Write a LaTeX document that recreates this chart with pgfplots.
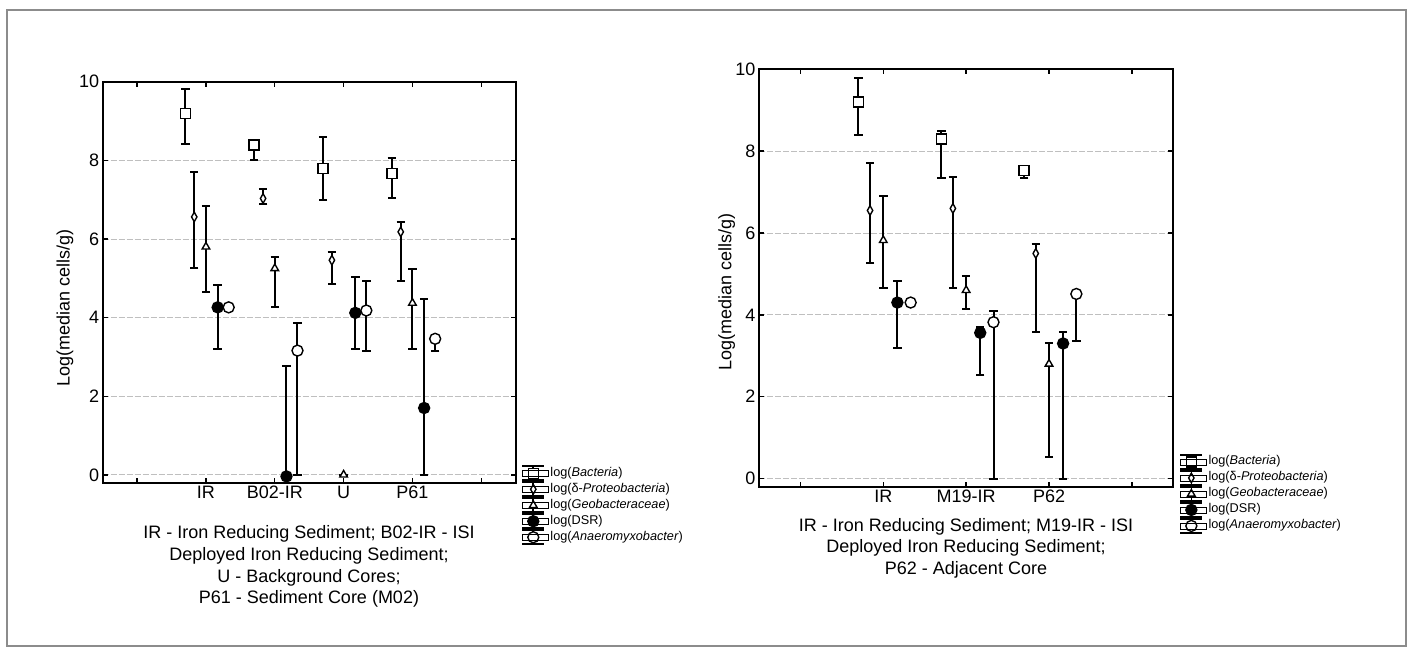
\documentclass[border=0pt]{standalone}
\usepackage{pgfplots}
\pgfplotsset{compat=1.18}
\usepackage{fontspec}
\setmainfont{Liberation Sans}
\newcommand\fa{\fontsize{18}{21.7}\selectfont}
\newcommand\fl{\fontsize{12.7}{15}\selectfont}
\definecolor{framegray}{RGB}{140,140,140}
\pgfplotsset{
  myaxis/.style={
    scale only axis,
    anchor=south west,
    ymin=-0.2, ymax=10,
    ytick={0,2,...,10},
    ymajorgrids,
    grid style={dash pattern=on 6pt off 2pt, gray!50, line width=0.8pt},
    axis line style={line width=1.8pt},
    tick align=inside,
    major tick length=5pt,
    every tick/.style={black, line width=1.4pt},
    tick label style={font=\fa},
    /pgf/number format/assume math mode=true,
    legend cell align=left,
    legend style={draw=none, fill=none, inner sep=0pt, row sep=0pt, anchor=north west,
      nodes={font=\fl, text height=9pt, text depth=3pt, inner sep=2pt}},
    legend image code/.code={
      \draw[overlay, line width=1.6pt, solid] (0pt,7pt)--(22pt,7pt) (0pt,-7pt)--(22pt,-7pt) (11pt,-7pt)--(11pt,7pt);
      \draw plot[only marks] coordinates {(11pt,0pt)};
      \path (0pt,-3pt) rectangle (26pt,3pt);
    },
  },
  eb/.style={error bars/.cd, y dir=both, y explicit,
    error bar style={line width=2pt, solid},
    error mark options={rotate=90, mark size=4.2pt, line width=2pt}},
  sbac/.style={black, only marks, mark=square*, mark size=5pt, mark options={fill=white, line width=1.4pt}, eb},
  sdel/.style={black, only marks, mark=diamond*, mark size=4.8pt, mark options={xscale=0.75, fill=white, line width=1.4pt}, eb},
  sgeo/.style={black, only marks, mark=triangle*, mark size=4.4pt, mark options={fill=white, line width=1.4pt}, eb},
  sdsr/.style={black, only marks, mark=*, mark size=5.5pt, mark options={fill=black, line width=1.4pt}, eb},
  sana/.style={black, only marks, mark=*, mark size=5.5pt, mark options={fill=white, line width=1.4pt}, eb},
}
\begin{document}
\begin{tikzpicture}[x=1pt,y=1pt]
\useasboundingbox (0,0) rectangle (1413,653);
\draw[line width=2.5pt, framegray] (7,643) rectangle (1406,7);

% ---------------- left panel ----------------
\begin{axis}[myaxis, at={(102.7pt,170.3pt)}, width=413pt, height=401pt,
  xmin=0.5, xmax=6.5, xtick={1,...,6}, xticklabels={,IR,B02-IR,U,P61,},
  legend style={at={(1.015,0.044)}}]
\addplot+[sbac] coordinates {
 (1.70,9.19) += (0,0.62) -= (0,0.77)
 (2.70,8.39) += (0,0.06) -= (0,0.37)
 (3.70,7.79) += (0,0.81) -= (0,0.80)
 (4.70,7.66) += (0,0.40) -= (0,0.63)
};
\addlegendentry{log(\textit{Bacteria})}
\addplot+[sdel] coordinates {
 (1.83,6.56) += (0,1.14) -= (0,1.29)
 (2.83,7.03) += (0,0.23) -= (0,0.13)
 (3.83,5.46) += (0,0.20) -= (0,0.60)
 (4.83,6.18) += (0,0.26) -= (0,1.26)
};
\addlegendentry{log(δ-\textit{Proteobacteria})}
\addplot+[sgeo] coordinates {
 (2.00,5.80) += (0,1.04) -= (0,1.16)
 (3.00,5.25) += (0,0.29) -= (0,0.97)
 (4.00,0.00) += (0,0.00) -= (0,0.00)
 (5.00,4.37) += (0,0.86) -= (0,1.17)
};
\addlegendentry{log(\textit{Geobacteraceae})}
\addplot+[sdsr] coordinates {
 (2.17,4.26) += (0,0.57) -= (0,1.06)
 (3.17,-0.04) += (0,2.80) -= (0,0.00)
 (4.17,4.12) += (0,0.90) -= (0,0.92)
 (5.17,1.70) += (0,2.76) -= (0,1.70)
};
\addlegendentry{log(DSR)}
\addplot+[sana] coordinates {
 (2.33,4.26) += (0,0.00) -= (0,0.00)
 (3.33,3.16) += (0,0.69) -= (0,3.16)
 (4.33,4.18) += (0,0.74) -= (0,1.02)
 (5.33,3.46) += (0,0.04) -= (0,0.30)
};
\addlegendentry{log(\textit{Anaeromyxobacter})}
\end{axis}

% ---------------- right panel ----------------
\begin{axis}[myaxis, at={(759pt,166.3pt)}, width=414.3pt, height=417.4pt,
  xmin=0.5, xmax=5.5, xtick={1,...,5}, xticklabels={,IR,M19-IR,P62,},
  legend style={at={(1.016,0.079)}}]
\addplot+[sbac] coordinates {
 (1.70,9.20) += (0,0.58) -= (0,0.80)
 (2.70,8.30) += (0,0.20) -= (0,0.96)
 (3.70,7.52) += (0,0.03) -= (0,0.18)
};
\addlegendentry{log(\textit{Bacteria})}
\addplot+[sdel] coordinates {
 (1.84,6.55) += (0,1.16) -= (0,1.28)
 (2.84,6.60) += (0,0.78) -= (0,1.95)
 (3.84,5.50) += (0,0.24) -= (0,1.91)
};
\addlegendentry{log(δ-\textit{Proteobacteria})}
\addplot+[sgeo] coordinates {
 (2.00,5.82) += (0,1.08) -= (0,1.17)
 (3.00,4.60) += (0,0.36) -= (0,0.46)
 (4.00,2.80) += (0,0.51) -= (0,2.28)
};
\addlegendentry{log(\textit{Geobacteraceae})}
\addplot+[sdsr] coordinates {
 (2.17,4.30) += (0,0.53) -= (0,1.11)
 (3.17,3.56) += (0,0.14) -= (0,1.03)
 (4.17,3.30) += (0,0.29) -= (0,3.30)
};
\addlegendentry{log(DSR)}
\addplot+[sana] coordinates {
 (2.33,4.30) += (0,0.00) -= (0,0.00)
 (3.33,3.82) += (0,0.27) -= (0,3.82)
 (4.33,4.51) += (0,0.00) -= (0,1.15)
};
\addlegendentry{log(\textit{Anaeromyxobacter})}
\end{axis}

\node[rotate=90, font=\fa] at (65,345) {Log(median cells/g)};
\node[rotate=90, font=\fa] at (726.7,361.3) {Log(median cells/g)};
\node[align=center, font=\fa] at (309,86.5) {IR - Iron Reducing Sediment; B02-IR - ISI\\Deployed Iron Reducing Sediment;\\U - Background Cores;\\P61 - Sediment Core (M02)};
\node[align=center, font=\fa] at (966,104.7) {IR - Iron Reducing Sediment; M19-IR - ISI\\Deployed Iron Reducing Sediment;\\P62 - Adjacent Core};
\end{tikzpicture}
\end{document}
